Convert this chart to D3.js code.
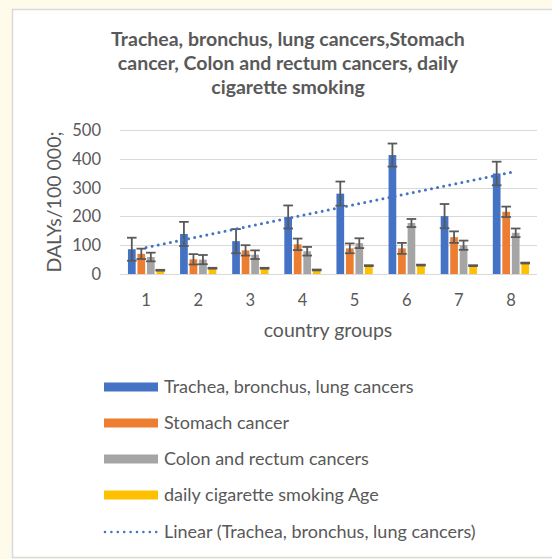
<!DOCTYPE html>
<html>
<head>
<meta charset="utf-8">
<script src="https://cdn.jsdelivr.net/npm/d3@7"></script>
<style>
  html, body { margin: 0; padding: 0; background: #fffbea; }
  svg { display: block; }
  text { font-family: Lato, "Open Sans", sans-serif; fill: #595959; }
</style>
</head>
<body>
<svg id="chart" width="552" height="559"></svg>
<script>
// Country groups on the x axis
const groups = ["1", "2", "3", "4", "5", "6", "7", "8"];

// DALYs per 100 000 by cause, one value per country group
const lungValues    = [86, 139, 114, 198, 279, 413, 201, 349];
const stomachValues = [70, 51, 82, 103, 89, 89, 128, 216];
const colonValues   = [59, 50, 67, 79, 107, 177, 100, 143];
const smokingValues = [13, 20, 20, 14, 29, 31, 29, 38];

// Error bar half-widths
const lungErrors    = [40, 42, 42, 40, 42, 40, 42, 41];
const stomachErrors = [18, 18, 18, 20, 17, 19, 20, 18];
const colonErrors   = [15, 16, 15, 15, 17, 14, 16, 15];
const smokingErrors = [1.5, 1.5, 1.5, 1.5, 1.5, 1.5, 1.5, 1.5];

const seriesNames = [
  "Trachea, bronchus, lung cancers",
  "Stomach cancer",
  "Colon and rectum cancers",
  "daily cigarette smoking Age"
];
const seriesColors = ["#4472c4", "#ed7d31", "#a5a5a5", "#ffc000"];
const trendName = "Linear (Trachea, bronchus, lung cancers)";

const yTicks = [0, 100, 200, 300, 400, 500];
const titleLines = [
  "Trachea, bronchus, lung cancers,Stomach",
  "cancer, Colon and rectum cancers, daily",
  "cigarette smoking"
];

const seriesValues = [lungValues, stomachValues, colonValues, smokingValues];
const seriesErrors = [lungErrors, stomachErrors, colonErrors, smokingErrors];

const svg = d3.select("#chart");

// White chart panel
svg.append("rect")
  .attr("x", 12.5).attr("y", 9.5)
  .attr("width", 560).attr("height", 548)
  .attr("fill", "#ffffff")
  .attr("stroke", "#d9d9d9").attr("stroke-width", 1.5);

// Title
const title = svg.append("text")
  .attr("text-anchor", "middle")
  .style("font-weight", "bold")
  .style("font-size", "19.5px");
titleLines.forEach((line, i) => {
  title.append("tspan").attr("x", 288).attr("y", 46 + i * 24).text(line);
});

// Scales
const x0 = d3.scaleBand().domain(groups).range([120, 537]);
const x1 = d3.scaleBand().domain(d3.range(seriesNames.length))
  .range([0, x0.bandwidth()]).paddingInner(0.19).paddingOuter(0.835);
const y = d3.scaleLinear().domain([0, 500]).range([274, 130]);

// Gridlines
svg.append("g").selectAll("line").data(yTicks).join("line")
  .attr("x1", 120).attr("x2", 537)
  .attr("y1", d => Math.round(y(d)) + 0.5).attr("y2", d => Math.round(y(d)) + 0.5)
  .attr("stroke", "#d9d9d9").attr("stroke-width", 1.2);

// Y tick labels
svg.append("g").selectAll("text").data(yTicks).join("text")
  .attr("x", 101).attr("y", d => y(d) + 6)
  .attr("text-anchor", "end")
  .style("font-size", "16.5px")
  .text(d => d);

// X tick labels
svg.append("g").selectAll("text").data(groups).join("text")
  .attr("x", d => x0(d) + x0.bandwidth() / 2).attr("y", 306)
  .attr("text-anchor", "middle")
  .style("font-size", "16.5px")
  .text(d => d);

// Axis titles
svg.append("text")
  .attr("x", 328).attr("y", 337)
  .attr("text-anchor", "middle")
  .style("font-size", "19.5px")
  .text("country groups");
svg.append("text")
  .attr("transform", "translate(61,202) rotate(-90)")
  .attr("text-anchor", "middle")
  .style("font-size", "19.5px")
  .text("DALYs/100 000;");

// Bars
const barRows = [];
seriesValues.forEach((vals, s) => vals.forEach((v, g) => {
  barRows.push({ s, g, v, e: seriesErrors[s][g] });
}));

svg.append("g").selectAll("rect").data(barRows).join("rect")
  .attr("x", d => x0(groups[d.g]) + x1(d.s))
  .attr("width", x1.bandwidth())
  .attr("y", d => y(d.v))
  .attr("height", d => y(0) - y(d.v))
  .attr("fill", d => seriesColors[d.s]);

// Error bars
const err = svg.append("g").attr("stroke", "#595959").attr("stroke-width", 1.8).attr("fill", "none");
const capHalf = 4.8;
barRows.forEach(d => {
  const cx = x0(groups[d.g]) + x1(d.s) + x1.bandwidth() / 2;
  const yt = y(d.v + d.e), yb = y(d.v - d.e);
  err.append("line").attr("x1", cx).attr("x2", cx).attr("y1", yt).attr("y2", yb);
  err.append("line").attr("x1", cx - capHalf).attr("x2", cx + capHalf).attr("y1", yt).attr("y2", yt);
  err.append("line").attr("x1", cx - capHalf).attr("x2", cx + capHalf).attr("y1", yb).attr("y2", yb);
});

// Linear trend line fitted to the lung cancer series
const xs = groups.map((g, i) => i + 1);
const mx = d3.mean(xs), my = d3.mean(lungValues);
const slope = d3.sum(xs, (xv, i) => (xv - mx) * (lungValues[i] - my)) / d3.sum(xs, xv => (xv - mx) ** 2);
const intercept = my - slope * mx;
const trendPts = [xs[0], xs[xs.length - 1]].map(xv => ({
  x: x0(groups[xv - 1]) + x0.bandwidth() / 2,
  y: y(intercept + slope * xv)
}));
svg.append("path")
  .attr("d", d3.line().x(d => d.x).y(d => d.y)(trendPts))
  .attr("stroke", "#4472c4").attr("stroke-width", 3)
  .attr("stroke-dasharray", "0 6.2").attr("stroke-linecap", "round")
  .attr("fill", "none");

// Legend
const legendY = [387, 423, 459, 495, 532];
const legend = svg.append("g");
seriesNames.forEach((name, i) => {
  legend.append("rect")
    .attr("x", 104).attr("y", legendY[i] - 4.5)
    .attr("width", 54).attr("height", 9)
    .attr("fill", seriesColors[i]);
  legend.append("text")
    .attr("x", 164).attr("y", legendY[i] + 6)
    .style("font-size", "18px")
    .text(name);
});
legend.append("line")
  .attr("x1", 105).attr("x2", 157)
  .attr("y1", legendY[4]).attr("y2", legendY[4])
  .attr("stroke", "#4472c4").attr("stroke-width", 2.6)
  .attr("stroke-dasharray", "0 6.4").attr("stroke-linecap", "round");
legend.append("text")
  .attr("x", 164).attr("y", legendY[4] + 6)
  .style("font-size", "18px")
  .text(trendName);
</script>
</body>
</html>
